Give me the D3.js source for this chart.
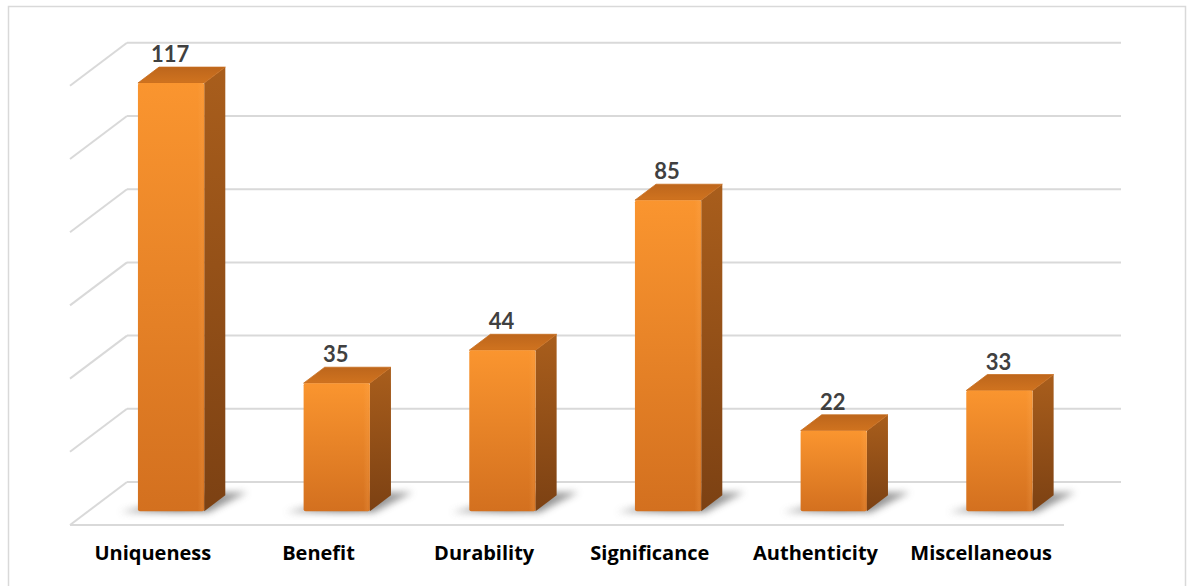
<!DOCTYPE html>
<html>
<head>
<meta charset="utf-8">
<script src="https://cdn.jsdelivr.net/npm/d3@7"></script>
<style>
  html, body { margin: 0; padding: 0; background: #fff; }
  svg { display: block; }
</style>
</head>
<body>
<svg id="chart" width="1192" height="586"></svg>
<script>
// Data
const categories = ["Uniqueness", "Benefit", "Durability", "Significance", "Authenticity", "Miscellaneous"];
const counts = [117, 35, 44, 85, 22, 33];
const tickValues = [0, 20, 40, 60, 80, 100, 120];

const svg = d3.select("#chart");

// Oblique 3D frame: back wall spans wallX0..wallX1, floor recedes by (depthDX, depthDY)
const wallX0 = 127, wallX1 = 1121;
const depthDX = -57, depthDY = 43;     // offset from back plane to front edge of floor
const zFront = 0.68, zBack = 0.31;     // bar faces' depth positions (0 = back wall, 1 = front edge)

const y = d3.scaleLinear().domain([0, 120]).range([482, 42.8]);
const x = d3.scaleBand().domain(categories).range([0, wallX1 - wallX0])
  .paddingInner(0.6).paddingOuter(0.3);

function P(xl, v, z) {
  return [wallX0 + xl + z * depthDX, y(v) + z * depthDY];
}

// Outer frame
svg.append("rect")
  .attr("x", 8.5).attr("y", 6.5)
  .attr("width", 1177).attr("height", 600)
  .attr("fill", "#fff").attr("stroke", "#d9d9d9").attr("stroke-width", 1.5);

// Defs: gradients and shadow blur
const defs = svg.append("defs");
const gFront = defs.append("linearGradient").attr("id", "gFront")
  .attr("x1", 0).attr("y1", 0).attr("x2", 0).attr("y2", 1);
gFront.append("stop").attr("offset", "0%").attr("stop-color", "#FA952F");
gFront.append("stop").attr("offset", "100%").attr("stop-color", "#D3701F");

const gFrontH = defs.append("linearGradient").attr("id", "gFrontH")
  .attr("x1", 0).attr("y1", 0).attr("x2", 1).attr("y2", 0);
gFrontH.append("stop").attr("offset", "0%").attr("stop-color", "#ffb060").attr("stop-opacity", 0.0);
gFrontH.append("stop").attr("offset", "90%").attr("stop-color", "#ffb060").attr("stop-opacity", 0.0);
gFrontH.append("stop").attr("offset", "97%").attr("stop-color", "#ffb060").attr("stop-opacity", 0.18);
gFrontH.append("stop").attr("offset", "100%").attr("stop-color", "#ffb060").attr("stop-opacity", 0.0);

const gSide = defs.append("linearGradient").attr("id", "gSide")
  .attr("x1", 0).attr("y1", 0).attr("x2", 0).attr("y2", 1);
gSide.append("stop").attr("offset", "0%").attr("stop-color", "#A95E1C");
gSide.append("stop").attr("offset", "100%").attr("stop-color", "#7C4113");

const gTop = defs.append("linearGradient").attr("id", "gTop")
  .attr("x1", 0).attr("y1", 1).attr("x2", 0).attr("y2", 0);
gTop.append("stop").attr("offset", "0%").attr("stop-color", "#D0731F");
gTop.append("stop").attr("offset", "100%").attr("stop-color", "#BD661C");

const gShadow = defs.append("linearGradient").attr("id", "gShadow")
  .attr("x1", 0).attr("y1", 0).attr("x2", 1).attr("y2", 0);
gShadow.append("stop").attr("offset", "0%").attr("stop-color", "#9a9a9a");
gShadow.append("stop").attr("offset", "45%").attr("stop-color", "#555");
gShadow.append("stop").attr("offset", "100%").attr("stop-color", "#8a8a8a");

const blur = defs.append("filter").attr("id", "soft")
  .attr("x", "-30%").attr("y", "-60%").attr("width", "160%").attr("height", "220%");
blur.append("feGaussianBlur").attr("stdDeviation", 3.5);

// Gridlines: back wall + left side wall
const grid = svg.append("g").attr("stroke", "#d9d9d9").attr("stroke-width", 2).attr("fill", "none");
tickValues.forEach(t => {
  const b0 = P(0, t, 0), b1 = P(wallX1 - wallX0, t, 0), f0 = P(0, t, 1);
  grid.append("line").attr("x1", b0[0]).attr("y1", b0[1]).attr("x2", b1[0]).attr("y2", b1[1]);
  grid.append("line").attr("x1", b0[0]).attr("y1", b0[1]).attr("x2", f0[0]).attr("y2", f0[1]);
});
// Front edge of the floor
{
  const f0 = P(0, 0, 1), f1 = P(wallX1 - wallX0, 0, 1);
  grid.append("line").attr("x1", f0[0]).attr("y1", f0[1]).attr("x2", f1[0]).attr("y2", f1[1]);
}

const poly = pts => pts.map(p => p.join(",")).join(" ");

// Bars
const bars = svg.append("g");
categories.forEach((c, i) => {
  const v = counts[i];
  const x0 = x(c), x1 = x(c) + x.bandwidth();
  const g = bars.append("g");

  // floor shadow
  const fl = P(x0, 0, zFront), fr = P(x1, 0, zFront), br = P(x1, 0, zBack);
  g.append("polygon")
    .attr("points", poly([
      [fl[0] - 18, fl[1] + 1],
      [fr[0] + 4, fr[1] + 1],
      [br[0] + 22, br[1] - 3],
      [br[0] - 20, br[1] - 3]
    ]))
    .attr("fill", "url(#gShadow)").attr("opacity", 0.75)
    .attr("filter", "url(#soft)");

  // side face
  g.append("polygon")
    .attr("points", poly([P(x1, v, zFront), P(x1, v, zBack), P(x1, 0, zBack), P(x1, 0, zFront)]))
    .attr("fill", "url(#gSide)");
  // top face
  g.append("polygon")
    .attr("points", poly([P(x0, v, zFront), P(x1, v, zFront), P(x1, v, zBack), P(x0, v, zBack)]))
    .attr("fill", "url(#gTop)").attr("stroke", "#C86D1E").attr("stroke-width", 0.8)
    .attr("stroke-linejoin", "round");
  // front face
  const ft = P(x0, v, zFront), fb = P(x1, 0, zFront);
  g.append("rect")
    .attr("x", ft[0]).attr("y", ft[1])
    .attr("width", fb[0] - ft[0]).attr("height", fb[1] - ft[1])
    .attr("rx", 2)
    .attr("fill", "url(#gFront)");
  g.append("rect")
    .attr("x", ft[0]).attr("y", ft[1])
    .attr("width", fb[0] - ft[0]).attr("height", fb[1] - ft[1])
    .attr("rx", 2)
    .attr("fill", "url(#gFrontH)");

  // value label
  const tb = P((x0 + x1) / 2, v, zBack);
  const fc = P((x0 + x1) / 2, v, zFront);
  svg.append("text")
    .attr("x", fc[0] - 1).attr("y", tb[1] - 5)
    .attr("text-anchor", "middle")
    .attr("font-family", "Lato, 'Open Sans', sans-serif")
    .attr("font-weight", 700).attr("font-size", 22)
    .attr("fill", "#404040")
    .text(v);
});

// Category labels along the front edge of the floor
svg.append("g").selectAll("text").data(categories).join("text")
  .attr("x", d => P(x(d) + x.bandwidth() / 2, 0, 1)[0])
  .attr("y", 560)
  .attr("text-anchor", "middle")
  .attr("font-family", "'Open Sans', Lato, sans-serif")
  .attr("font-weight", 700).attr("font-size", 20)
  .attr("fill", "#000")
  .text(d => d);
</script>
</body>
</html>
